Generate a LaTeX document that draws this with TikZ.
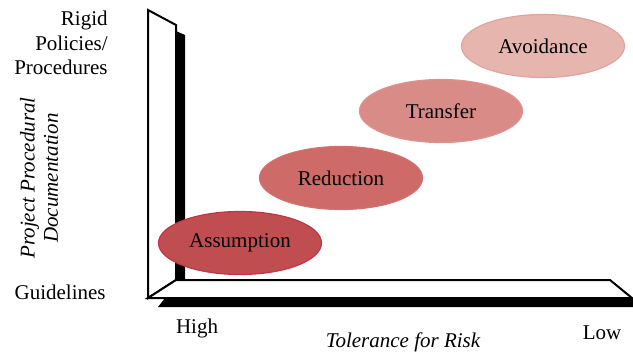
\documentclass[tikz,border=0pt]{standalone}
\usepackage{fontspec}
\setmainfont{Liberation Serif}
\usetikzlibrary{shapes.geometric,positioning}
\definecolor{asmfill}{RGB}{192,78,80}
\definecolor{asmline}{RGB}{196,52,68}
\definecolor{redfill}{RGB}{206,106,103}
\definecolor{redline}{RGB}{214,112,112}
\definecolor{trnfill}{RGB}{217,140,135}
\definecolor{trnline}{RGB}{226,144,144}
\definecolor{avdfill}{RGB}{230,182,174}
\definecolor{avdline}{RGB}{226,162,160}
\tikzset{
  risk/.style={draw, ellipse, line width=0.6pt, minimum width=81.5pt, minimum height=31.5pt, inner sep=0pt, font=\fontsize{10.5}{12}\selectfont},
  lbl/.style={font=\fontsize{10.5}{12.2}\selectfont, inner sep=0pt},
  face/.style={draw=black, line width=1pt, fill=white, line join=miter},
}
\begin{document}
\begin{tikzpicture}[x=0.5pt, y=-0.5pt]
\useasboundingbox (0,0) rectangle (633,354);

% Vertical wall
\fill[black] (176,31) -- (185,35) -- (185,279) -- (176,279) -- cycle;
\draw[face] (148,10) -- (176,25) -- (176,280) -- (148,298) -- cycle;

% Floor
\fill[black] (165,298) -- (633,298) -- (633,307) -- (158,307) -- cycle;
\draw[face] (148,298) -- (176,280) -- (610,280) -- (632,298) -- cycle;

% Risk responses as ellipses
\foreach \x/\y/\lab/\nm in {
  240/243/Assumption/asm, 341/178/Reduction/red,
  441/111/Transfer/trn, 543/46/Avoidance/avd} {
  \node[risk, fill=\nm fill, draw=\nm line] (\nm) at (\x,\y) {\lab};
}

% Axis labels
\node[lbl, align=right, anchor=east] (rigid) at (108,43) {Rigid\\Policies/\\Procedures};
\node[lbl, anchor=east] (guide) at (106,292) {Guidelines};
\node[lbl, align=center, rotate=90, font=\fontsize{10.5}{11.6}\selectfont\itshape] (docu) at (39,178)
  {Project Procedural\\Documentation};
\node[lbl] (high) at (197,328) {High};
\node[lbl, font=\fontsize{10.5}{12}\selectfont\itshape] (tol) at (403,342) {Tolerance for Risk};
\node[lbl] (low) at (602,333) {Low};

\end{tikzpicture}
\end{document}
